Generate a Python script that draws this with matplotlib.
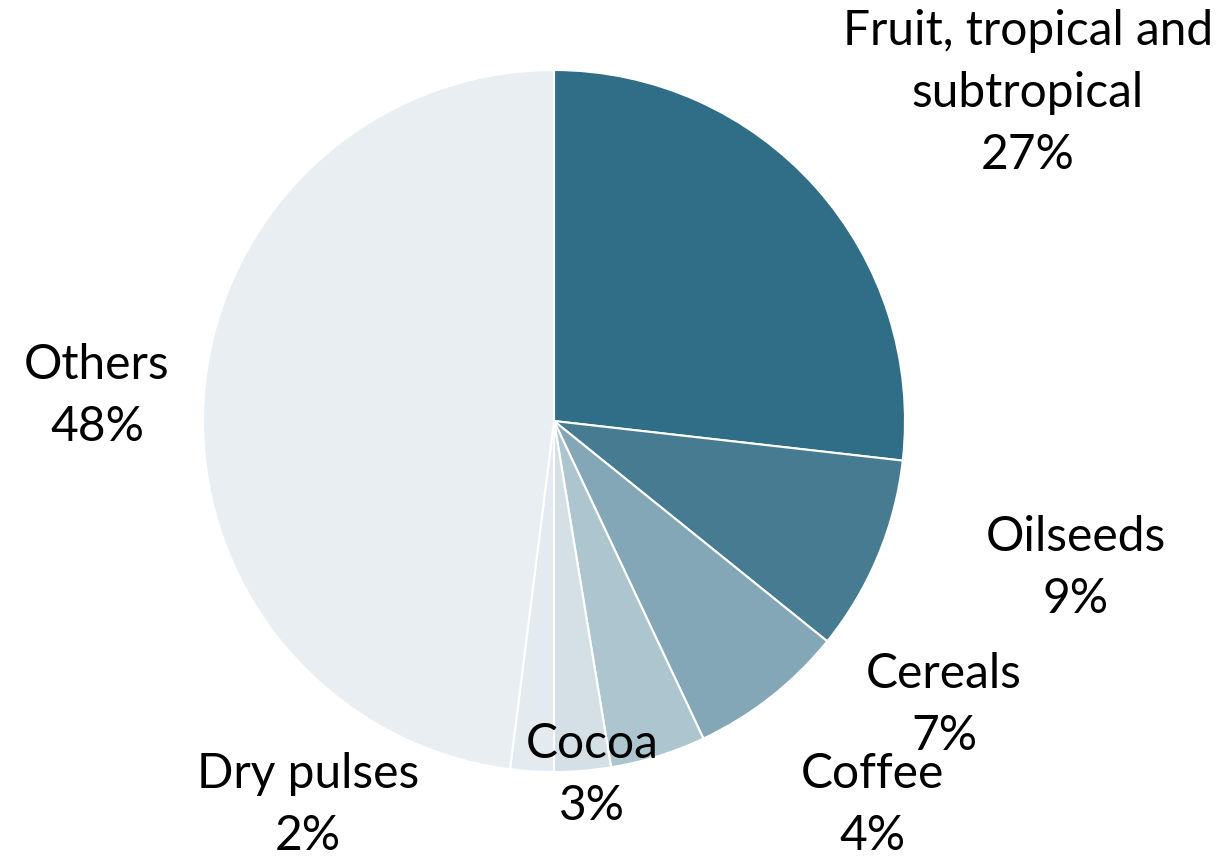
import matplotlib
matplotlib.use("Agg")
import matplotlib.pyplot as plt

categories = ["Fruit, tropical and\nsubtropical", "Oilseeds", "Cereals", "Coffee",
              "Cocoa", "Dry pulses", "Others"]
shares = [26.8, 9.0, 7.2, 4.4, 2.6, 2.0, 48.0]
colors = ["#306e87", "#467b91", "#84a7b7", "#adc5cf", "#d5e0e6", "#e4ebf0", "#e9eef2"]
# label anchor positions (data units, pie radius = 1)
label_pos = [(1.35, 0.934), (1.487, -0.419), (1.111, -0.809), (0.906, -1.094),
             (0.108, -1.009), (-0.701, -1.094), (-1.302, 0.071)]

plt.rcParams['font.family'] = ['Lato', 'DejaVu Sans']

W, H = 1228, 858
R = 351.0
cx, cy = 554, 421
fig = plt.figure(figsize=(W / 100, H / 100), dpi=100)
ax = fig.add_axes([0, 0, 1, 1])
ax.pie(shares, colors=colors, startangle=90, counterclock=False, radius=1,
       wedgeprops=dict(edgecolor="white", linewidth=1.5))
ax.set_aspect("auto")
ax.set_xlim(-cx / R, (W - cx) / R)
ax.set_ylim(-(H - cy) / R, cy / R)
ax.axis("off")

for name, val, (x, y) in zip(categories, shares, label_pos):
    ax.text(x, y, f"{name}\n{round(val):d}%", ha="center", va="center",
            fontsize=34.5, color="black", linespacing=1.5, zorder=5)

fig.savefig("out.png", dpi=100)
